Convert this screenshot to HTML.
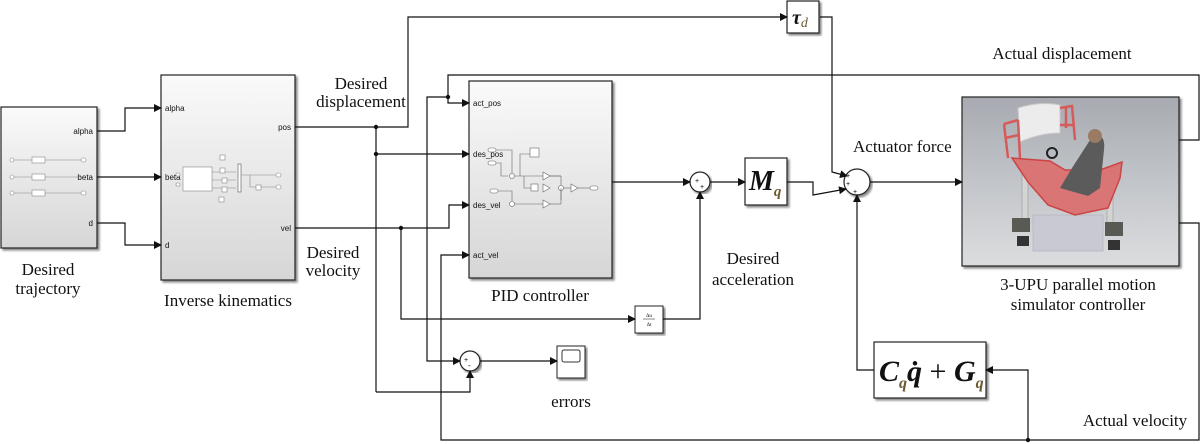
<!DOCTYPE html>
<html><head><meta charset="utf-8"><style>
html,body{margin:0;padding:0;background:#fff;}
svg{display:block;}
.t{font-family:"Liberation Serif",serif;font-size:17px;fill:#111;}
.p{font-family:"Liberation Sans",sans-serif;font-size:8px;fill:#111;}
.m{font-family:"Liberation Serif",serif;font-weight:bold;font-style:italic;fill:#111;}
.l{stroke:#111;stroke-width:1.2;fill:none;}
</style></head><body>
<svg width="1200" height="444" viewBox="0 0 1200 444" xmlns="http://www.w3.org/2000/svg">
<defs>
<linearGradient id="g" x1="0" y1="0" x2="0" y2="1"><stop offset="0" stop-color="#fafafa"/><stop offset="1" stop-color="#d6d6d6"/></linearGradient>
<linearGradient id="bg" x1="0" y1="0" x2="0" y2="1"><stop offset="0" stop-color="#a7abb1"/><stop offset="0.55" stop-color="#c4c7cb"/><stop offset="1" stop-color="#dcdddf"/></linearGradient>
<marker id="a" markerWidth="8" markerHeight="8" refX="7" refY="4" orient="auto" markerUnits="userSpaceOnUse"><path d="M0,0 L8,4 L0,8 z" fill="#111"/></marker>
<filter id="sh"><feDropShadow dx="2" dy="2" stdDeviation="1" flood-color="#888"/></filter>
</defs>

<rect x="1" y="107" width="96" height="141" fill="url(#g)" stroke="#222" stroke-width="1.2" filter="url(#sh)"/>
<text class="p" x="93" y="134" text-anchor="end">alpha</text>
<text class="p" x="93" y="180" text-anchor="end">beta</text>
<text class="p" x="93" y="226" text-anchor="end">d</text>
<g stroke="#888" stroke-width="0.6" fill="#fff">
<line x1="13" y1="160" x2="83" y2="160"/><line x1="13" y1="177" x2="83" y2="177"/><line x1="13" y1="193" x2="83" y2="193"/>
<circle cx="12" cy="160" r="2"/><circle cx="12" cy="177" r="2"/><circle cx="12" cy="193" r="2"/>
<rect x="32" y="157" width="13" height="6"/><rect x="32" y="174" width="13" height="6"/><rect x="32" y="190" width="13" height="6"/>
<rect x="81" y="158" width="5" height="4" rx="2"/><rect x="81" y="191" width="5" height="4" rx="2"/>
</g>

<rect x="161" y="75" width="134" height="205" fill="url(#g)" stroke="#222" stroke-width="1.2" filter="url(#sh)"/>
<text class="p" x="165" y="111">alpha</text>
<text class="p" x="165" y="180">beta</text>
<text class="p" x="165" y="248">d</text>
<text class="p" x="291" y="130" text-anchor="end">pos</text>
<text class="p" x="291" y="231" text-anchor="end">vel</text>
<g stroke="#888" stroke-width="0.6" fill="#fff">
<rect x="183" y="167" width="29" height="24"/>
<line x1="212" y1="172" x2="236" y2="172"/><line x1="212" y1="180" x2="236" y2="180"/><line x1="212" y1="188" x2="236" y2="188"/>
<rect x="220" y="155" width="5" height="5"/><rect x="220" y="168" width="5" height="5"/><rect x="222" y="178" width="5" height="5"/><rect x="222" y="187" width="5" height="5"/><rect x="219" y="197" width="5" height="5"/>
<rect x="238" y="164" width="3" height="28" fill="#fff" stroke="#555"/>
<line x1="241" y1="175" x2="278" y2="175"/><line x1="250" y1="175" x2="250" y2="187"/><line x1="250" y1="187" x2="278" y2="187"/>
<rect x="256" y="185" width="5" height="5"/><rect x="276" y="173" width="5" height="4" rx="2"/><rect x="276" y="185" width="5" height="4" rx="2"/>
<rect x="176" y="173" width="4" height="3" rx="1"/><rect x="176" y="183" width="4" height="3" rx="1"/>
</g>

<rect x="469" y="81" width="143" height="197" fill="url(#g)" stroke="#222" stroke-width="1.2" filter="url(#sh)"/>
<text class="p" x="473" y="106">act_pos</text>
<text class="p" x="473" y="157">des_pos</text>
<text class="p" x="473" y="208">des_vel</text>
<text class="p" x="473" y="258">act_vel</text>
<g stroke="#666" stroke-width="0.6" fill="#fff">
<rect x="488" y="148" width="8" height="4" rx="2"/><rect x="488" y="161" width="8" height="4" rx="2"/>
<polyline points="496,150 512,150 512,175" fill="none"/><polyline points="496,163 501,163 501,176 508,176" fill="none"/>
<circle cx="512" cy="176" r="2.5"/>
<polyline points="515,176 543,176 561,176" fill="none"/><polyline points="520,176 520,154 530,154" fill="none"/>
<rect x="530" y="148" width="9" height="9"/>
<polyline points="524,176 524,188 531,188" fill="none"/><rect x="531" y="184" width="7" height="7"/>
<path d="M543,172 L550,176 L543,180 z"/><path d="M543,184 L550,188 L543,192 z"/>
<line x1="550" y1="176" x2="561" y2="176"/><line x1="561" y1="176" x2="561" y2="200"/>
<circle cx="561" cy="188" r="2.5"/><path d="M571,184 L578,188 L571,192 z"/>
<line x1="564" y1="188" x2="571" y2="188"/><line x1="578" y1="188" x2="590" y2="188"/><rect x="590" y="186" width="8" height="4" rx="2"/>
<rect x="490" y="189" width="8" height="4" rx="2"/><polyline points="498,191 512,191 512,201" fill="none"/>
<circle cx="512" cy="204" r="2.5"/><line x1="515" y1="204" x2="543" y2="204"/><path d="M543,200 L550,204 L543,208 z"/><line x1="550" y1="204" x2="561" y2="204"/><line x1="561" y1="204" x2="561" y2="188"/>
</g>

<rect x="787" y="1" width="32" height="32" fill="#fff" stroke="#222" stroke-width="1.2" filter="url(#sh)"/>
<text class="m" x="792" y="24" font-size="20">τ<tspan font-size="14" fill="#6a5a30" font-weight="normal" dy="3">d</tspan></text>

<rect x="745" y="158" width="42" height="47" fill="#fff" stroke="#222" stroke-width="1.2" filter="url(#sh)"/>
<text class="m" x="749" y="190" font-size="28">M<tspan font-size="15" fill="#6a5a30" dy="6">q</tspan></text>

<rect x="635" y="306" width="28" height="27" fill="#fff" stroke="#222" stroke-width="1" filter="url(#sh)"/>
<text x="649" y="317" font-size="5" text-anchor="middle" font-family="Liberation Serif,serif">Δu</text>
<line x1="643" y1="319" x2="655" y2="319" stroke="#111" stroke-width="0.5"/>
<text x="649" y="326" font-size="5" text-anchor="middle" font-family="Liberation Serif,serif">Δt</text>

<rect x="557" y="346" width="28" height="32" fill="#fff" stroke="#222" stroke-width="1" filter="url(#sh)"/>
<rect x="562" y="350" width="18" height="12" rx="2" fill="#fff" stroke="#333" stroke-width="1"/>

<rect x="874" y="342" width="112" height="56" fill="#fff" stroke="#222" stroke-width="1.2" filter="url(#sh)"/>
<text class="m" x="879" y="381" font-size="30">C<tspan font-size="16" fill="#6a5a30" dy="7">q</tspan><tspan dy="-7">q̇</tspan><tspan font-weight="normal" font-style="normal"> + </tspan>G<tspan font-size="16" fill="#6a5a30" dy="7">q</tspan></text>

<circle cx="700" cy="182" r="10" fill="#fff" stroke="#222" stroke-width="1.2" filter="url(#sh)"/>
<text x="695" y="183" font-size="7" font-family="Liberation Sans">+</text><text x="700" y="189" font-size="7" font-family="Liberation Sans">+</text>
<circle cx="857" cy="182" r="13" fill="#fff" stroke="#222" stroke-width="1.2" filter="url(#sh)"/>
<text x="846" y="178" font-size="7" font-family="Liberation Sans">+</text><text x="846" y="186" font-size="7" font-family="Liberation Sans">+</text><text x="853" y="194" font-size="7" font-family="Liberation Sans">+</text>
<circle cx="470" cy="361" r="10" fill="#fff" stroke="#222" stroke-width="1.2" filter="url(#sh)"/>
<text x="464" y="362" font-size="7" font-family="Liberation Sans">+</text><text x="468" y="368" font-size="8" font-family="Liberation Sans">-</text>

<!-- simulator image -->
<rect x="962" y="97" width="217" height="169" fill="url(#bg)" stroke="#222" stroke-width="1.2" filter="url(#sh)"/>
<g>
<rect x="1033" y="215" width="70" height="36" fill="#c9c9d3" stroke="#b0b0bb" stroke-width="0.6"/>
<rect x="1022" y="172" width="6" height="56" fill="#d4d4d4" stroke="#999" stroke-width="0.6"/>
<rect x="1107" y="178" width="6" height="56" fill="#d4d4d4" stroke="#999" stroke-width="0.6"/>
<rect x="1012" y="218" width="18" height="14" fill="#5a5a55"/><rect x="1017" y="236" width="12" height="10" fill="#333"/>
<rect x="1105" y="222" width="18" height="14" fill="#5a5a55"/><rect x="1108" y="240" width="12" height="10" fill="#333"/>
<path d="M1018,108 Q1040,101 1060,105 L1060,133 Q1040,133 1020,142 z" fill="#ececec" stroke="#c9c9c9" stroke-width="1"/>
<path d="M1004,124 L1018,120 M1004,124 L1008,158 M1018,120 L1020,158 M1005,138 L1019,135" fill="none" stroke="#d65a5a" stroke-width="2.5"/>
<path d="M1060,108 L1072,106 L1075,140 M1066,108 L1066,128 M1060,125 L1075,125" fill="none" stroke="#d65a5a" stroke-width="2.5"/>
<path d="M1012,158 L1050,161 L1065,170 L1100,170 L1122,162 L1120,178 L1108,208 L1075,215 L1048,205 L1028,182 z" fill="#d97575" stroke="#c44" stroke-width="1.5"/>
<path d="M1092,137 Q1106,132 1104,150 L1100,188 L1088,196 L1060,188 L1072,168 z" fill="#5b5b5b"/>
<circle cx="1095" cy="136" r="7" fill="#9b7b63"/>
<circle cx="1052" cy="153" r="5" fill="none" stroke="#222" stroke-width="2"/>
</g>

<polyline class="l" points="97,131 125,131 125,108 161,108" marker-end="url(#a)"/>
<line class="l" x1="97" y1="177" x2="161" y2="177" marker-end="url(#a)"/>
<polyline class="l" points="97,223 125,223 125,245 161,245" marker-end="url(#a)"/>
<polyline class="l" points="295,127 408,127 408,17 787,17" marker-end="url(#a)"/>
<line class="l" x1="376" y1="127" x2="376" y2="392"/>
<line class="l" x1="376" y1="154" x2="469" y2="154" marker-end="url(#a)"/>
<polyline class="l" points="295,228 449,228 449,205 469,205" marker-end="url(#a)"/>
<polyline class="l" points="401,228 401,319 635,319" marker-end="url(#a)"/>
<polyline class="l" points="663,319 700,319 700,192" marker-end="url(#a)"/>
<line class="l" x1="612" y1="182" x2="690" y2="182" marker-end="url(#a)"/>
<line class="l" x1="710" y1="182" x2="745" y2="182" marker-end="url(#a)"/>
<polyline class="l" points="787,182 813,182 813,195 846,189" marker-end="url(#a)"/>
<polyline class="l" points="820,17 832,17 832,172 847,176" marker-end="url(#a)"/>
<line class="l" x1="870" y1="182" x2="962" y2="182" marker-end="url(#a)"/>
<polyline class="l" points="1179,140 1199,140 1199,75 448,75 448,103 469,103" marker-end="url(#a)"/>
<polyline class="l" points="448,97 427,97 427,361 460,361" marker-end="url(#a)"/>
<polyline class="l" points="376,392 470,392 470,371" marker-end="url(#a)"/>
<line class="l" x1="480" y1="361" x2="557" y2="361" marker-end="url(#a)"/>
<polyline class="l" points="1179,223 1199,223 1199,440 441,440 441,255 469,255" marker-end="url(#a)"/>
<polyline class="l" points="1028,440 1028,370 986,370" marker-end="url(#a)"/>
<polyline class="l" points="874,370 857,370 857,195" marker-end="url(#a)"/>

<g fill="#111"><circle cx="376" cy="127" r="2.2"/><circle cx="376" cy="154" r="2.2"/><circle cx="401" cy="228" r="2.2"/><circle cx="448" cy="97" r="2.2"/><circle cx="1028" cy="440" r="2.2"/></g>

<text class="t" x="361" y="89" text-anchor="middle">Desired</text>
<text class="t" x="361" y="107" text-anchor="middle">displacement</text>
<text class="t" x="333" y="258" text-anchor="middle">Desired</text>
<text class="t" x="333" y="276" text-anchor="middle">velocity</text>
<text class="t" x="48" y="275" text-anchor="middle">Desired</text>
<text class="t" x="48" y="294" text-anchor="middle">trajectory</text>
<text class="t" x="228" y="306" text-anchor="middle">Inverse kinematics</text>
<text class="t" x="540" y="301" text-anchor="middle">PID controller</text>
<text class="t" x="753" y="264" text-anchor="middle">Desired</text>
<text class="t" x="753" y="285" text-anchor="middle">acceleration</text>
<text class="t" x="571" y="407" text-anchor="middle">errors</text>
<text class="t" x="853" y="152">Actuator force</text>
<text class="t" x="1062" y="59" text-anchor="middle">Actual displacement</text>
<text class="t" x="1078" y="290" text-anchor="middle">3-UPU parallel motion</text>
<text class="t" x="1078" y="310" text-anchor="middle">simulator controller</text>
<text class="t" x="1135" y="426" text-anchor="middle">Actual velocity</text>
</svg>
</body></html>
